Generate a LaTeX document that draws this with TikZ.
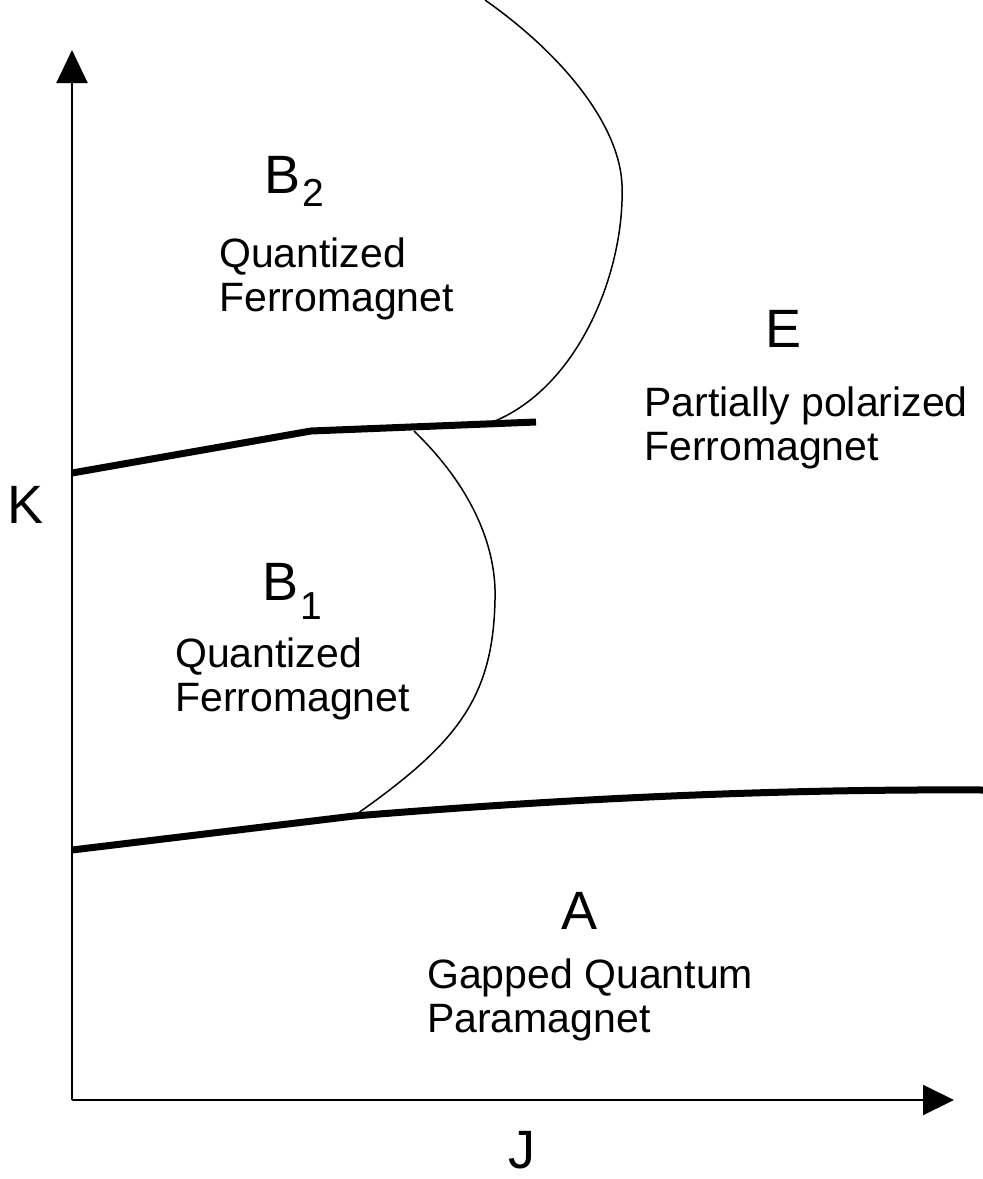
\documentclass[tikz,border=0pt]{standalone}
\usepackage{fontspec}
\setmainfont{Liberation Sans}
\usepackage{tikz}
\usetikzlibrary{arrows.meta}

\begin{document}
\begin{tikzpicture}[x=1pt,y=-1pt]
	\useasboundingbox (0,0) rectangle (983,1179);
	\tikzset{phase/.style={inner sep=0,anchor=base west,font=\fontsize{54}{60}\selectfont},
		desc/.style={inner sep=0,anchor=north west,align=left,font=\fontsize{41}{44}\selectfont},
		border/.style={line width=7pt},
		crossover/.style={line width=1.5pt}}
	\coordinate (O) at (72,1100);
	\coordinate (Ktip) at (72,50);
	\coordinate (Jtip) at (954,1100);
	\draw [line width=2pt,-{Triangle[length=33pt,width=31pt]}] (O) -- (Ktip);
	\draw [line width=2pt,-{Triangle[length=31pt,width=30pt]}] (O) -- (Jtip);
	\coordinate (L1) at (72,473);
	\coordinate (M1) at (311,431);
	\coordinate (R1) at (536,422);
	\coordinate (L2) at (72,850);
	\coordinate (M2) at (354,816);
	\coordinate (R2) at (983,790);
	\coordinate (T1) at (495,421);
	\coordinate (T2) at (414,431);
	\draw [border] (L1) -- (M1) -- (R1);
	\draw [border] (L2) -- (M2) .. controls (600,796) and (800,789) .. (R2);
	\draw [crossover] (485,0) .. controls (570,60) and (620,130) .. (622,185)
		.. controls (625,270) and (580,385) .. (T1);
	\draw [crossover] (T2) .. controls (470,485) and (497,545) .. (495,600)
		.. controls (493,700) and (455,745) .. (M2);
	\begin{scope}[every node/.style=phase]
	\node (K) at (7,523) {K};
	\node (J) at (508,1168) {J};
	\node (B2) at (264,193) {B\kern2pt\raisebox{-13pt}{\fontsize{39}{39}\selectfont 2}};
	\node (B1) at (262,600) {B\kern2pt\raisebox{-19pt}{\fontsize{39}{39}\selectfont 1}};
	\node (E) at (765,347) {E};
	\node (A) at (561,929) {A};
	\end{scope}
	\node [desc] (B2txt) at (219,238) {Quantized\\Ferromagnet};
	\node [desc] (B1txt) at (175,638) {Quantized\\Ferromagnet};
	\node [desc] (Etxt) at (644,387) {Partially polarized\\Ferromagnet};
	\node [desc] (Atxt) at (427,959) {Gapped Quantum\\Paramagnet};
\end{tikzpicture}
\end{document}
